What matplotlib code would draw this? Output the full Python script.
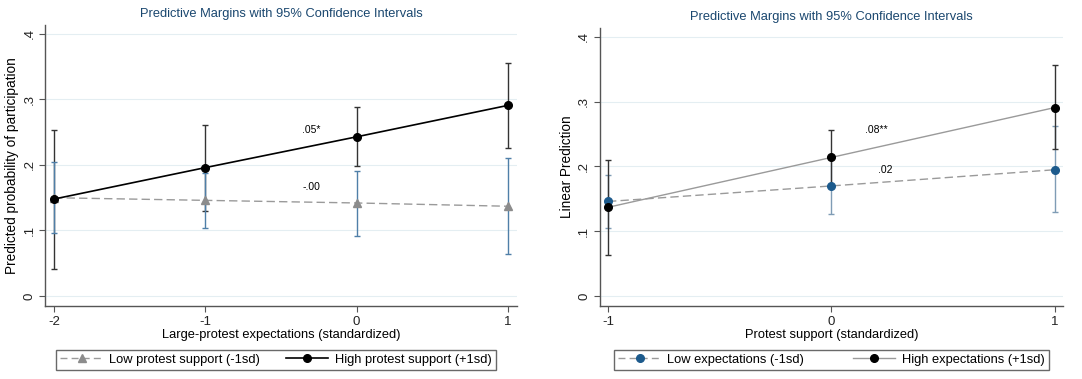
import numpy as np
import matplotlib
matplotlib.use("Agg")
import matplotlib.pyplot as plt
from matplotlib.lines import Line2D

plt.rcParams['font.family'] = ['Liberation Sans', 'DejaVu Sans']

# left panel: margins by large-protest expectations
exp_x = [-2, -1, 0, 1]
hi_sup = [0.148, 0.196, 0.243, 0.291]
hi_sup_lo = [0.041, 0.129, 0.198, 0.226]
hi_sup_hi = [0.253, 0.261, 0.288, 0.356]
lo_sup = [0.150, 0.146, 0.142, 0.137]
lo_sup_lo = [0.096, 0.104, 0.092, 0.064]
lo_sup_hi = [0.205, 0.188, 0.191, 0.210]

# right panel: margins by protest support
sup_x = [-1, 0, 1]
hi_exp = [0.137, 0.214, 0.291]
hi_exp_lo = [0.063, 0.170, 0.227]
hi_exp_hi = [0.210, 0.257, 0.356]
lo_exp = [0.146, 0.170, 0.195]
lo_exp_lo = [0.105, 0.126, 0.129]
lo_exp_hi = [0.187, 0.214, 0.262]

yticks = [0, 0.1, 0.2, 0.3, 0.4]
ytick_labels = ['0', '.1', '.2', '.3', '.4']

title_col = '#1a476f'
blue_ci = '#4f7fa8'
dash_gray = '#9a9a9a'

fig = plt.figure(figsize=(10.82, 3.79), dpi=100)
ax1 = fig.add_axes([0.0416, 0.1926, 0.4362, 0.7414])
ax2 = fig.add_axes([0.5545, 0.1926, 0.4279, 0.7335])


def style(ax, xt):
    ax.set_ylim(-0.0153, 0.4137)
    ax.set_yticks(yticks)
    ax.set_yticklabels(ytick_labels)
    ax.set_xticks(xt)
    ax.set_xticklabels([str(v) for v in xt])
    for s in ['top', 'right']:
        ax.spines[s].set_visible(False)
    for s in ['left', 'bottom']:
        ax.spines[s].set_color('#555555')
        ax.spines[s].set_linewidth(1.0)
    ax.tick_params(axis='both', colors='#555555', labelcolor='#222222',
                   labelsize=9.5, length=4, width=0.8, pad=3)
    ax.tick_params(axis='y', labelrotation=90)
    for lab in ax.get_yticklabels():
        lab.set_va('center')
    ax.grid(axis='y', color='#e4eef2', linewidth=0.8)
    ax.set_axisbelow(True)
    ax.set_title('Predictive Margins with 95% Confidence Intervals',
                 color=title_col, fontsize=9.3, pad=6)


def ci(ax, x, y, lo, hi, col):
    y = np.array(y)
    err = [y - np.array(lo), np.array(hi) - y]
    ax.errorbar(x, y, yerr=err, fmt='none', ecolor=col, elinewidth=1.0,
                capsize=2.5, capthick=1.0, zorder=2)


# left panel
style(ax1, exp_x)
ax1.set_xlim(-2.06, 1.06)
ci(ax1, exp_x, hi_sup, hi_sup_lo, hi_sup_hi, '#333333')
ci(ax1, exp_x, lo_sup, lo_sup_lo, lo_sup_hi, blue_ci)
ax1.plot(exp_x, lo_sup, color=dash_gray, ls=(0, (6, 3)), lw=1.0,
         marker='^', ms=5.5, mfc='#8c8c8c', mec='#8c8c8c', zorder=3)
ax1.plot(exp_x, hi_sup, color='black', lw=1.2, marker='o', ms=5.5,
         mfc='black', mec='black', zorder=4)
ax1.text(-0.3, 0.246, '.05*', fontsize=7.5, ha='center', va='bottom')
ax1.text(-0.3, 0.158, '-.00', fontsize=7.5, ha='center', va='bottom')
ax1.set_xlabel('Large-protest expectations (standardized)', fontsize=9.3, labelpad=1)
ax1.set_ylabel('Predicted probability of participation', fontsize=9.8, labelpad=3)

# right panel
style(ax2, sup_x)
ax2.set_xlim(-1.036, 1.036)
ci(ax2, sup_x, lo_exp, lo_exp_lo, lo_exp_hi, '#7f9cb5')
ci(ax2, sup_x, hi_exp, hi_exp_lo, hi_exp_hi, '#333333')
ax2.plot(sup_x, lo_exp, color=dash_gray, ls=(0, (6, 3)), lw=1.0,
         marker='o', ms=5.5, mfc='#1c5a8c', mec='#1c5a8c', zorder=3)
ax2.plot(sup_x, hi_exp, color='#9a9a9a', lw=1.0, marker='o', ms=5.5,
         mfc='black', mec='black', zorder=4)
ax2.text(0.2, 0.248, '.08**', fontsize=7.5, ha='center', va='bottom')
ax2.text(0.24, 0.187, '.02', fontsize=7.5, ha='center', va='bottom')
ax2.set_xlabel('Protest support (standardized)', fontsize=9.3, labelpad=1)
ax2.set_ylabel('Linear Prediction', fontsize=9.8, labelpad=3)

# legends below each panel
h1 = [Line2D([], [], color=dash_gray, ls=(0, (5, 3)), lw=1.0, marker='^',
             ms=5.5, mfc='#8c8c8c', mec='#8c8c8c'),
      Line2D([], [], color='black', lw=1.2, marker='o', ms=5.5, mfc='black')]
h2 = [Line2D([], [], color=dash_gray, ls=(0, (5, 3)), lw=1.0, marker='o',
             ms=5.5, mfc='#1c5a8c', mec='#1c5a8c'),
      Line2D([], [], color='#9a9a9a', lw=1.0, marker='o', ms=5.5, mfc='black', mec='black')]

for fig_x0, fig_w, handles, labels in [
        (50 / 1082, 452 / 1082, h1, ['Low protest support (-1sd)', 'High protest support (+1sd)']),
        (608 / 1082, 447 / 1082, h2, ['Low expectations (-1sd)', 'High expectations (+1sd)'])]:
    leg = fig.legend(handles, labels, loc='lower left', ncol=2, mode='expand',
                     bbox_to_anchor=(fig_x0, 3 / 379, fig_w, 25 / 379),
                     bbox_transform=fig.transFigure, fontsize=9.3,
                     frameon=True, fancybox=False, handlelength=3.3,
                     handletextpad=0.5, borderpad=0.3, columnspacing=0.8)
    leg.get_frame().set_edgecolor('#444444')
    leg.get_frame().set_linewidth(1.0)

fig.savefig('out.png', dpi=100)
